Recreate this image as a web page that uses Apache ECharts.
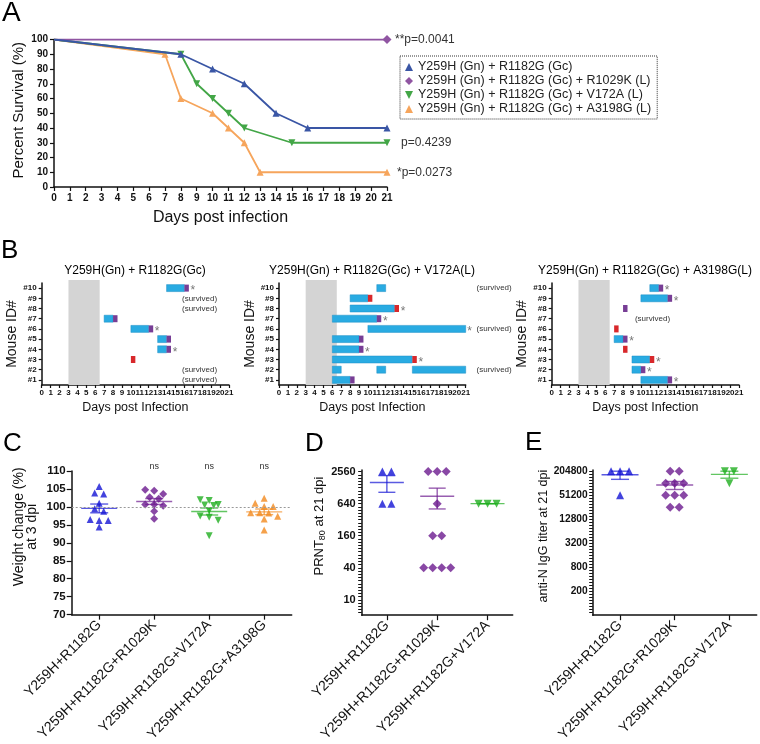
<!DOCTYPE html>
<html>
<head>
<meta charset="utf-8">
<title>Survival, clinical course, weight change and antibody titers</title>
<script src="https://cdn.jsdelivr.net/npm/echarts@6/dist/echarts.min.js"></script>
<style>
  html, body { margin: 0; padding: 0; background: #fff; }
  #main { width: 760px; height: 744px; }
</style>
</head>
<body>
<div id="main"></div>
<script>
// ---------- A: survival ----------
const survivalNames = [
  'Y259H (Gn) + R1182G (Gc)',
  'Y259H (Gn) + R1182G (Gc) + R1029K (L)',
  'Y259H (Gn) + R1182G (Gc) + V172A (L)',
  'Y259H (Gn) + R1182G (Gc) + A3198G (L)'
];
const survDaysR1182G = [0, 8, 10, 12, 14, 16, 21];
const survR1182G = [100, 90, 80, 70, 50, 40, 40];
const survDaysR1029K = [0, 21];
const survR1029K = [100, 100];
const survDaysV172A = [0, 8, 9, 10, 11, 12, 15, 21];
const survV172A = [100, 90, 70, 60, 50, 40, 30, 30];
const survDaysA3198G = [0, 7, 8, 10, 11, 12, 13, 21];
const survA3198G = [100, 90, 60, 50, 40, 30, 10, 10];
const pValues = ['', '**p=0.0041', 'p=0.4239', '*p=0.0273'];

// ---------- B: clinical course per mouse ----------
const mouseIds = ['#1', '#2', '#3', '#4', '#5', '#6', '#7', '#8', '#9', '#10'];
const shadedDays = [3, 6.5];
// signs: [mouse, fromDay, toDay]; ends: [mouse, day, kind]
const signsR1182G = [[10, 14, 16], [7, 7, 8], [6, 10, 12], [5, 13, 14], [4, 13, 14]];
const endsR1182G = [[10, 16, 'died'], [7, 8, 'died'], [6, 12, 'died'], [5, 14, 'died'], [4, 14, 'died'], [3, 10, 'euth']];
const starsR1182G = [10, 6, 4];
const survivedR1182G = [9, 8, 2, 1];

const signsV172A = [[10, 11, 12], [9, 8, 10], [8, 8, 13], [7, 6, 11], [6, 10, 21], [5, 6, 9], [4, 6, 9],
  [3, 6, 15], [2, 6, 7], [2, 11, 12], [2, 15, 21], [1, 6, 8]];
const endsV172A = [[9, 10, 'euth'], [8, 13, 'euth'], [7, 11, 'died'], [5, 9, 'died'], [4, 9, 'died'], [3, 15, 'euth'], [1, 8, 'died']];
const starsV172A = [8, 7, 6, 4, 3];
const survivedV172A = [10, 6, 2];

const signsA3198G = [[10, 11, 12], [9, 10, 13], [5, 7, 8], [3, 9, 11], [2, 9, 10], [1, 10, 13]];
const endsA3198G = [[10, 12, 'died'], [9, 13, 'died'], [8, 8, 'died'], [6, 7, 'euth'], [5, 8, 'died'], [4, 8, 'euth'],
  [3, 11, 'euth'], [2, 10, 'died'], [1, 13, 'died']];
const starsA3198G = [10, 9, 5, 3, 2, 1];
const survivedA3198G = [7];

// ---------- C: weight change at 3 dpi ----------
const weightGroups = ['Y259H+R1182G', 'Y259H+R1182G+R1029K', 'Y259H+R1182G+V172A', 'Y259H+R1182G+A3198G'];
const weightR1182G = [105.7, 103.9, 103.6, 101.0, 99.5, 98.8, 96.5, 96.2, 96.2, 94.4];
const weightR1029K = [104.8, 104.5, 103.6, 102.7, 102.3, 100.7, 100.7, 100.3, 98.8, 96.7];
const weightV172A = [102.0, 101.8, 100.7, 100.5, 100.4, 98.9, 97.5, 97.1, 96.3, 92.0];
const weightA3198G = [102.4, 101.0, 100.1, 100.1, 98.4, 98.4, 98.3, 97.4, 96.6, 93.6];
const weightSig = ['', 'ns', 'ns', 'ns'];

// ---------- D / E: titers at 21 dpi ----------
const titerGroups = ['Y259H+R1182G', 'Y259H+R1182G+R1029K', 'Y259H+R1182G+V172A'];
const prntR1182G = [2560, 2560, 640, 640];
const prntR1029K = [2560, 2560, 2560, 640, 160, 160, 40, 40, 40, 40];
const prntV172A = [640, 640, 640];
const prntTicks = [10, 40, 160, 640, 2560];
const iggR1182G = [204800, 204800, 204800, 51200];
const iggR1029K = [204800, 204800, 102400, 102400, 102400, 51200, 51200, 51200, 25600, 25600];
const iggV172A = [204800, 204800, 102400];
const iggTicks = [200, 800, 3200, 12800, 51200, 204800];

// ---------- styling ----------
const FONT = "'Liberation Sans', Arial, Helvetica, sans-serif";
const BLACK = '#111';
const lineColors = ['#3a56a5', '#9055a2', '#43a647', '#f6a55c'];
const dotColors = ['#1414d4', '#6c1a8f', '#1fae1f', '#f28a1e'];
const symbols = ['triangle', 'diamond', 'triangle', 'triangle'];
const symbolRot = [0, 0, 180, 0];
const barColors = { sign: '#29abe2', died: '#773d95', euth: '#d8282b' };

function merge(a, b) {
  const out = Object.assign({}, a);
  for (const k in b) {
    if (b[k] && typeof b[k] === 'object' && !Array.isArray(b[k]) && a[k] && typeof a[k] === 'object') {
      out[k] = merge(a[k], b[k]);
    } else {
      out[k] = b[k];
    }
  }
  return out;
}
const baseAxis = {
  axisLine: { show: true, onZero: false, lineStyle: { color: BLACK, width: 1.5 } },
  axisTick: { show: true, length: 4, lineStyle: { color: BLACK, width: 1.2 } },
  splitLine: { show: false },
  axisLabel: { color: BLACK, fontFamily: FONT, fontWeight: 'bold', fontSize: 10, margin: 6 },
  nameTextStyle: { color: BLACK, fontFamily: FONT }
};
const ax = o => merge(baseAxis, o);

const toD = v => Math.log(v / 10) / Math.log(4);   // PRNT axis: 10 * 4^k
const toE = v => Math.log(v / 200) / Math.log(4);  // IgG axis: 200 * 4^k

// rows of nearly equal values are spread side by side (beeswarm)
function swarm(values, pxPerUnit, tol, gap) {
  const order = values.map((v, i) => i).sort((a, b) => values[b] - values[a]);
  const rows = [];
  order.forEach(i => {
    const y = values[i] * pxPerUnit;
    const row = rows[rows.length - 1];
    if (row && Math.abs(row.y - y) < tol) row.items.push(i);
    else rows.push({ y: y, items: [i] });
  });
  const offs = [];
  rows.forEach(r => r.items.forEach((i, j) => { offs[i] = (j - (r.items.length - 1) / 2) * gap; }));
  return offs;
}

function dotSeries(groups, xi, yi, toAxis, pxPerUnit, tol, size) {
  return groups.map((vals, gi) => {
    const axisVals = vals.map(toAxis);
    const offs = swarm(axisVals, pxPerUnit, tol, 9);
    return {
      type: 'scatter', xAxisIndex: xi, yAxisIndex: yi,
      symbol: symbols[gi], symbolRotate: symbolRot[gi], symbolSize: gi === 1 ? size + 1 : size,
      itemStyle: { color: dotColors[gi] },
      data: axisVals.map((v, j) => ({ value: [gi, v], symbolOffset: [offs[j], 0] })),
      emphasis: { disabled: true }, z: 3
    };
  });
}

function meanSemSeries(groups, xi, yi, toAxis, halfMean, halfCap) {
  const data = groups.map((vals, i) => {
    const n = vals.length;
    const m = vals.reduce((a, b) => a + b, 0) / n;
    const sd = Math.sqrt(vals.reduce((a, b) => a + (b - m) * (b - m), 0) / (n - 1));
    const sem = sd / Math.sqrt(n);
    return [i, toAxis(m), toAxis(m + sem), toAxis(m - sem)];
  });
  return {
    type: 'custom', xAxisIndex: xi, yAxisIndex: yi, z: 4, silent: true,
    encode: { x: 0, y: [1, 2, 3] },
    data: data,
    renderItem: (params, api) => {
      const c = api.coord([api.value(0), api.value(1)]);
      const hi = api.coord([api.value(0), api.value(2)]);
      const lo = api.coord([api.value(0), api.value(3)]);
      const st = { stroke: dotColors[params.dataIndex], lineWidth: 1.4, opacity: 0.7 };
      return {
        type: 'group', children: [
          { type: 'line', shape: { x1: c[0] - halfMean, y1: c[1], x2: c[0] + halfMean, y2: c[1] }, style: st },
          { type: 'line', shape: { x1: c[0], y1: hi[1], x2: c[0], y2: lo[1] }, style: st },
          { type: 'line', shape: { x1: c[0] - halfCap, y1: hi[1], x2: c[0] + halfCap, y2: hi[1] }, style: st },
          { type: 'line', shape: { x1: c[0] - halfCap, y1: lo[1], x2: c[0] + halfCap, y2: lo[1] }, style: st }
        ]
      };
    }
  };
}

// ---------- series A ----------
const survDays = [survDaysR1182G, survDaysR1029K, survDaysV172A, survDaysA3198G];
const survVals = [survR1182G, survR1029K, survV172A, survA3198G];
const pDist = [0, 8, 14, 10];
const seriesA = survivalNames.map((name, i) => ({
  name: name, type: 'line', xAxisIndex: 0, yAxisIndex: 0,
  data: survDays[i].map((d, j) => j === 0 ? { value: [d, survVals[i][j]], symbol: 'none' } : [d, survVals[i][j]]),
  symbol: symbols[i], symbolRotate: symbolRot[i], symbolSize: i === 1 ? 9 : 7,
  lineStyle: { color: lineColors[i], width: 1.8 },
  itemStyle: { color: lineColors[i] },
  endLabel: { show: !!pValues[i], formatter: pValues[i] || '', distance: pDist[i], fontSize: 12, color: '#333', fontFamily: FONT },
  emphasis: { disabled: true }, z: 3 + (3 - i)
}));

// ---------- series B ----------
const panelsB = [
  { signs: signsR1182G, ends: endsR1182G, stars: starsR1182G, survived: survivedR1182G, textDay: 17.7 },
  { signs: signsV172A, ends: endsV172A, stars: starsV172A, survived: survivedV172A, textDay: 24.2 },
  { signs: signsA3198G, ends: endsA3198G, stars: starsA3198G, survived: survivedA3198G, textDay: 11.3 }
];
const seriesB = [];
panelsB.forEach((p, k) => {
  const xi = 1 + k, yi = 1 + k;
  seriesB.push({
    type: 'custom', xAxisIndex: xi, yAxisIndex: yi, silent: true, z: 1,
    encode: { x: [0, 1] },
    data: [shadedDays],
    renderItem: (params, api) => {
      const a = api.coord([api.value(0), 0]);
      const b = api.coord([api.value(1), 0]);
      const cs = params.coordSys;
      return { type: 'rect', shape: { x: a[0], y: cs.y - 3, width: b[0] - a[0], height: cs.height + 3 }, style: { fill: '#d4d4d4' } };
    }
  });
  seriesB.push({
    type: 'custom', xAxisIndex: xi, yAxisIndex: yi, silent: true, z: 2,
    encode: { x: [0, 1], y: 2 },
    data: p.signs.map(s => [s[1], s[2], s[0] - 1]),
    renderItem: (params, api) => {
      const a = api.coord([api.value(0), api.value(2)]);
      const b = api.coord([api.value(1), api.value(2)]);
      return { type: 'rect', shape: { x: a[0], y: a[1] - 3.5, width: b[0] - a[0], height: 7 },
        style: { fill: barColors.sign, stroke: '#1f8ec4', lineWidth: 0.5 } };
    }
  });
  seriesB.push({
    type: 'custom', xAxisIndex: xi, yAxisIndex: yi, silent: true, z: 2,
    encode: { x: 0, y: 1 },
    data: p.ends.map(e => [e[1], e[0] - 1]),
    renderItem: (params, api) => {
      const a = api.coord([api.value(0), api.value(1)]);
      const b = api.coord([api.value(0) + 0.5, api.value(1)]);
      return { type: 'rect', shape: { x: a[0], y: a[1] - 3.5, width: b[0] - a[0], height: 7 },
        style: { fill: barColors[p.ends[params.dataIndex][2]] } };
    }
  });
  const rowEnd = m => Math.max(
    ...p.signs.filter(s => s[0] === m).map(s => s[2]),
    ...p.ends.filter(e => e[0] === m).map(e => e[1] + 0.5));
  seriesB.push({
    type: 'custom', xAxisIndex: xi, yAxisIndex: yi, silent: true, z: 2,
    encode: { x: 0, y: 1 },
    data: p.stars.map(m => [rowEnd(m), m - 1]),
    renderItem: (params, api) => {
      const a = api.coord([api.value(0), api.value(1)]);
      return { type: 'text', x: a[0] + 4, y: a[1] + 3,
        style: { text: '*', fill: '#777', font: '12px ' + FONT, textAlign: 'center', textVerticalAlign: 'middle' } };
    }
  });
  seriesB.push({
    type: 'custom', xAxisIndex: xi, yAxisIndex: yi, silent: true, z: 2, clip: false,
    encode: { x: 0, y: 1 },
    data: p.survived.map(m => [p.textDay, m - 1]),
    renderItem: (params, api) => {
      const a = api.coord([api.value(0), api.value(1)]);
      return { type: 'text', x: a[0], y: a[1],
        style: { text: '(survived)', fill: '#333', font: '8px ' + FONT, textAlign: 'center', textVerticalAlign: 'middle' } };
    }
  });
});

// ---------- series C, D, E ----------
const weightData = [weightR1182G, weightR1029K, weightV172A, weightA3198G];
const seriesC = dotSeries(weightData, 4, 4, v => v, 3.66, 5, 7);
seriesC[0].markLine = {
  silent: true, symbol: 'none', label: { show: false },
  lineStyle: { color: '#999', type: [2, 2], width: 1 },
  data: [{ yAxis: 100 }]
};
seriesC.push(meanSemSeries(weightData, 4, 4, v => v, 18, 9));
seriesC.push({
  type: 'custom', xAxisIndex: 4, yAxisIndex: 4, silent: true, clip: false,
  encode: { x: 0, y: 1 },
  data: weightSig.map((s, i) => [i, 110]).filter(d => weightSig[d[0]]),
  renderItem: (params, api) => {
    const a = api.coord([api.value(0), api.value(1)]);
    return { type: 'text', x: a[0], y: a[1] - 4,
      style: { text: weightSig[api.value(0)], fill: '#333', font: '9px ' + FONT, textAlign: 'center', textVerticalAlign: 'middle' } };
  }
});

const prntData = [prntR1182G, prntR1029K, prntV172A];
const seriesD = dotSeries(prntData, 5, 5, toD, 32.75, 3, 8);
seriesD.push(meanSemSeries(prntData, 5, 5, toD, 17, 8.5));

const iggData = [iggR1182G, iggR1029K, iggV172A];
const seriesE = dotSeries(iggData, 6, 6, toE, 24.5, 3, 8);
seriesE.push(meanSemSeries(iggData, 6, 6, toE, 18.5, 9));

// dense ruler ticks on the titer axes (labels only at the 4-fold steps)
const rulerD = [], rulerE = [];
for (let k = -4; k <= 40; k++) rulerD.push(k / 10);
for (let k = -7; k <= 40; k++) rulerE.push(k / 8);

// ---------- axes ----------
const bX = g => ax({ gridIndex: g, type: 'value', min: 0, max: 21, interval: 1,
  axisTick: { length: 3 }, axisLabel: { fontSize: 8, margin: 4 },
  name: 'Days post Infection', nameLocation: 'middle', nameGap: 16, nameTextStyle: { fontSize: 12.5 } });
const bY = g => ax({ gridIndex: g, type: 'category', data: mouseIds,
  axisTick: { alignWithLabel: true, interval: 0, length: 3 }, axisLabel: { interval: 0, fontSize: 8, margin: 5 },
  name: 'Mouse ID#', nameLocation: 'middle', nameGap: 17, nameTextStyle: { fontSize: 14 } });
const catX = (g, cats) => ax({ gridIndex: g, type: 'category', data: cats,
  axisTick: { alignWithLabel: true, interval: 0, length: 5 },
  axisLabel: { rotate: 45, interval: 0, fontWeight: 'normal', fontSize: 14, margin: 8 } });

const option = {
  animation: false,
  backgroundColor: '#fff',
  textStyle: { fontFamily: FONT },
  grid: [
    { left: 54, top: 39.5, width: 333, height: 147.5 },
    { left: 41.7, top: 283, width: 187.3, height: 102 },
    { left: 279, top: 283, width: 186.7, height: 102 },
    { left: 551.7, top: 283, width: 187.3, height: 102 },
    { left: 71.7, top: 471, width: 220, height: 146.3 },
    { left: 361.7, top: 470, width: 151, height: 148.3 },
    { left: 592.7, top: 470, width: 164, height: 148.3 }
  ],
  legend: {
    data: survivalNames.map((n, i) => ({ name: n, icon: ['triangle', 'diamond', 'path://M0,0L10,0L5,10Z', 'triangle'][i] })),
    orient: 'vertical', left: 400, top: 56,
    itemWidth: 8, itemHeight: 8, itemGap: 0,
    padding: [4, 6, 3, 5],
    borderColor: '#333', borderWidth: 1, borderType: 'dotted',
    selectedMode: false,
    textStyle: { fontSize: 12.5, color: '#222', fontFamily: FONT, lineHeight: 14 }
  },
  xAxis: [
    ax({ gridIndex: 0, type: 'value', min: 0, max: 21, interval: 1,
      name: 'Days post infection', nameLocation: 'middle', nameGap: 23, nameTextStyle: { fontSize: 16 } }),
    bX(1), bX(2), bX(3),
    catX(4, weightGroups),
    catX(5, titerGroups),
    catX(6, titerGroups)
  ],
  yAxis: [
    ax({ gridIndex: 0, type: 'value', min: 0, max: 100, interval: 10,
      name: 'Percent Survival (%)', nameLocation: 'middle', nameGap: 28,
      nameTextStyle: { fontSize: 15, padding: [0, 0, 0, 6] } }),
    bY(1), bY(2), bY(3),
    ax({ gridIndex: 4, type: 'value', min: 70, max: 110, interval: 5,
      axisTick: { length: 5 }, axisLabel: { fontSize: 11.5 },
      name: 'Weight change (%)\nat 3 dpi', nameLocation: 'middle', nameGap: 33,
      nameTextStyle: { fontSize: 14, lineHeight: 13, padding: [0, 0, 0, 32] } }),
    ax({ gridIndex: 5, type: 'value', min: -0.48, max: 4.05,
      axisTick: { length: 3.5, customValues: rulerD, lineStyle: { width: 1 } },
      axisLabel: { fontSize: 11, customValues: prntTicks.map(toD), formatter: v => String(Math.round(10 * Math.pow(4, v))) },
      name: '{a|PRNT}{s|80}{a| at 21 dpi}', nameLocation: 'middle', nameGap: 32,
      nameTextStyle: { padding: [0, 0, 0, 33], rich: { a: { fontSize: 13, fontFamily: FONT, color: BLACK }, s: { fontSize: 9, fontFamily: FONT, color: BLACK, padding: [6, 0, 0, 0] } } } }),
    ax({ gridIndex: 6, type: 'value', min: -1, max: 5.05,
      axisTick: { length: 3.5, customValues: rulerE, lineStyle: { width: 1 } },
      axisLabel: { fontSize: 10.2, margin: 5, customValues: iggTicks.map(toE), formatter: v => String(Math.round(200 * Math.pow(4, v))) },
      name: 'anti-N IgG titer at 21 dpi', nameLocation: 'middle', nameGap: 43,
      nameTextStyle: { fontSize: 12.5, padding: [0, 0, 0, 13] } })
  ],
  graphic: [
    { type: 'text', x: 2, y: 13, style: { text: 'A', font: '28px ' + FONT, fill: '#000', textVerticalAlign: 'middle' } },
    { type: 'text', x: 1, y: 251, style: { text: 'B', font: '26px ' + FONT, fill: '#000', textVerticalAlign: 'middle' } },
    { type: 'text', x: 3, y: 444, style: { text: 'C', font: '26px ' + FONT, fill: '#000', textVerticalAlign: 'middle' } },
    { type: 'text', x: 305, y: 444, style: { text: 'D', font: '26px ' + FONT, fill: '#000', textVerticalAlign: 'middle' } },
    { type: 'text', x: 525, y: 443, style: { text: 'E', font: '26px ' + FONT, fill: '#000', textVerticalAlign: 'middle' } },
    { type: 'text', x: 135, y: 271, style: { text: 'Y259H(Gn) + R1182G(Gc)', font: '12px ' + FONT, fill: '#000', textAlign: 'center', textVerticalAlign: 'middle' } },
    { type: 'text', x: 372, y: 271, style: { text: 'Y259H(Gn) + R1182G(Gc) + V172A(L)', font: '12px ' + FONT, fill: '#000', textAlign: 'center', textVerticalAlign: 'middle' } },
    { type: 'text', x: 645, y: 271, style: { text: 'Y259H(Gn) + R1182G(Gc) + A3198G(L)', font: '12px ' + FONT, fill: '#000', textAlign: 'center', textVerticalAlign: 'middle' } }
  ],
  series: [].concat(seriesA, seriesB, seriesC, seriesD, seriesE)
};

const chart = echarts.init(document.getElementById('main'));
chart.setOption(option);
</script>
</body>
</html>
